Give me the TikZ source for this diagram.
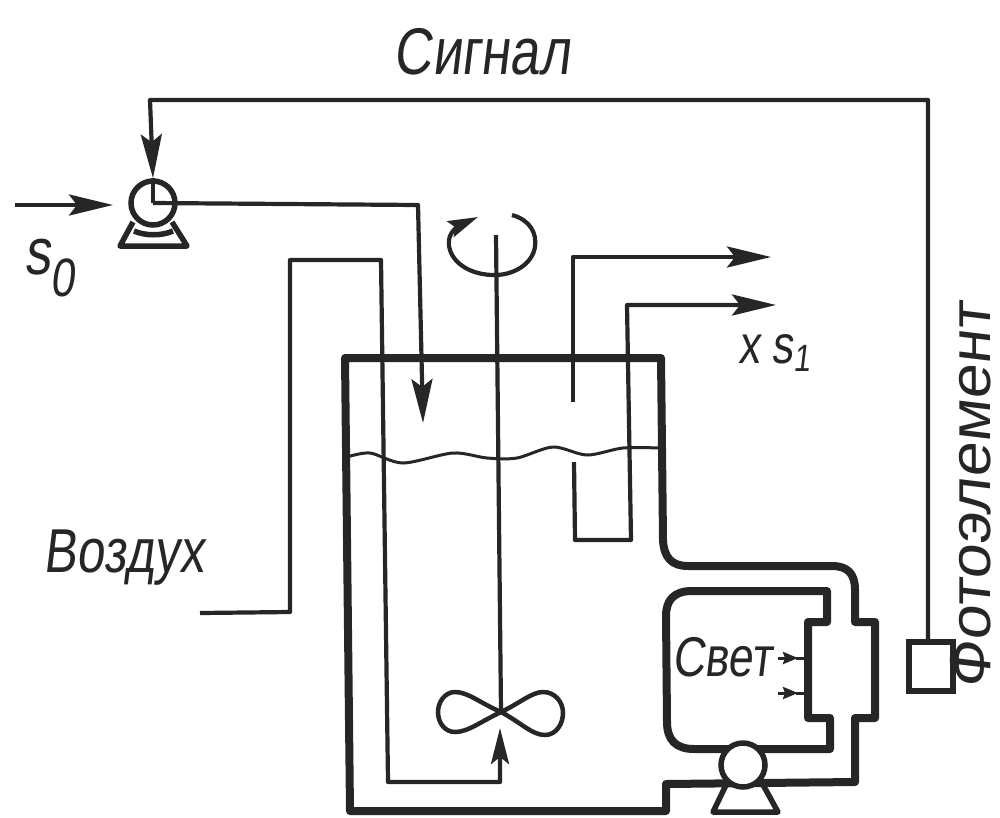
\documentclass[tikz,border=0pt]{standalone}
\usepackage{fontspec}
\usetikzlibrary{arrows.meta}
\newfontfamily\handfont[FakeStretch=0.8,FakeSlant=0.12]{Liberation Sans}
\newfontfamily\widehand[FakeStretch=1.08,FakeSlant=0.12]{Liberation Sans}
\definecolor{ink}{HTML}{262626}
\tikzset{
  pipe/.style={draw=ink,line width=4.2pt,line join=round},
  wall/.style={draw=ink,line width=8pt,line join=round},
  flow/.style={pipe,-{Stealth[length=44pt,width=21pt,inset=8pt]}},
  smallflow/.style={draw=ink,line width=3pt,-{Stealth[length=15pt,width=12pt,inset=2pt]}},
  pumpbody/.style={circle,draw=ink,line width=5.5pt,fill=white,minimum size=44pt,inner sep=0pt},
  stand/.style={draw=ink,line width=5.5pt,line join=round},
  lab/.style={text=ink,inner sep=0pt}
}
\begin{document}
\begin{tikzpicture}[x=1pt,y=-1pt]
\useasboundingbox (0,0) rectangle (1000,817);
% ---- coordinates
\coordinate (feedstart) at (15,205);
\coordinate (feedend) at (113,205);
\coordinate (inflow) at (423,423);
\coordinate (airstart) at (200,613);
\coordinate (airend) at (500,728);
\coordinate (ov1start) at (573,402);
\coordinate (ov1end) at (771,257);
\coordinate (ov2start) at (574,462);
\coordinate (ov2end) at (776,305);
\coordinate (shafttop) at (496,235);
\coordinate (hub) at (501,712);
% ---- tank walls
\draw[wall] (345,358) -- (661,358) -- (663,540) .. controls (664,558) and (672,566) .. (688,566) -- (832,566) .. controls (848,566) and (855,574) .. (855,590) -- (855,622) -- (875,622) -- (875,718) -- (855,718) -- (855,782) -- (666,784) -- (666,811) -- (350,811) -- cycle;
\draw[wall] (827,622) -- (827,591) -- (692,591) .. controls (674,591) and (666,600) .. (666,616) -- (667,722) .. controls (667,740) and (676,749) .. (694,749) -- (830,749) -- (830,718) -- (808,718) -- (808,622) -- cycle;
% ---- liquid level
\draw[draw=ink,line width=3pt] plot[smooth] coordinates {(347,457) (370,453) (403,463) (453,453) (487,458) (517,458) (553,447) (587,455) (623,448) (660,448)};
% ---- pipes
\node[pumpbody] (pumpA) at (153,203) {};
\node[pumpbody] (pumpB) at (743,765) {};
\draw[stand] (133,222) -- (120,246) -- (187,246) -- (172,222);
\draw[stand] (134,231) .. controls (145,236) and (162,236) .. (173,231);
\draw[stand] (727,783) -- (713,812) -- (778,812) -- (762,783);
\draw[pipe] (pumpA.center) -- (153,178);
\draw[flow] (pumpA.center) -- (418,205) -- (inflow);
\draw[flow] (928,640) -- (928,100) -- (150,100) -- (pumpA.north);
\draw[flow] (feedstart) -- (feedend);
\draw[flow,-{Stealth[length=36pt,width=18pt,inset=7pt]}] (airstart) -- (290,612) -- (290,260) -- (381,260) -- (388,782) -- (500,782) -- (airend);
\draw[flow] (ov1start) -- (573,257) -- (ov1end);
\draw[flow] (ov2start) -- (575,540) -- (631,540) -- (627,305) -- (ov2end);
\draw[pipe] (shafttop) -- (hub);
% ---- rotation mark
\draw[pipe,-{Stealth[length=30pt,width=17pt,inset=5pt]}] (512,215) .. controls (530,220) and (537,233) .. (535,247) .. controls (532,265) and (512,276) .. (492,275) .. controls (465,274) and (447,258) .. (449,240) .. controls (450,230) and (462,224) .. (478,217);
% ---- impeller
\draw[draw=ink,line width=4.5pt] (hub) .. controls (480,703) and (468,692) .. (455,692) .. controls (445,692) and (438,702) .. (438,712) .. controls (438,723) and (445,732) .. (455,732) .. controls (468,732) and (480,722) .. (hub) .. controls (520,722) and (532,735) .. (545,735) .. controls (556,735) and (563,724) .. (563,713) .. controls (563,702) and (555,692) .. (543,692) .. controls (532,692) and (520,703) .. (hub);
% ---- light arrows
\coordinate (lampA) at (808,658);
\coordinate (lampB) at (808,693);
\draw[smallflow] (778,658) -- (798,658);
\draw[smallflow,-] (796,658) -- (lampA);
\draw[smallflow] (778,693) -- (798,693);
\draw[smallflow,-] (796,693) -- (lampB);
% ---- photocell
\node[draw=ink,line width=6pt,fill=white,minimum width=44pt,minimum height=49pt,inner sep=0pt] (cell) at (931,666) {};
% ---- labels
\node[lab,font=\handfont\fontsize{66}{66}\selectfont] (tSignal) at (482,52) {Сигнал};
\node[lab,font=\handfont\fontsize{62}{62}\selectfont] (tAir) at (124,558) {Воздух};
\node[lab,font=\handfont\fontsize{56}{56}\selectfont] (tLight) at (722,657) {Свет};
\node[lab,font=\widehand\fontsize{58}{58}\selectfont,rotate=90,anchor=base] (tPhoto) at (990,496) {Фотоэлемент};
\node[lab,font=\handfont\fontsize{66}{66}\selectfont,anchor=base west] (tS0) at (24,274) {s\raisebox{-22pt}{\fontsize{54}{54}\selectfont 0}};
\node[lab,font=\handfont\fontsize{54}{54}\selectfont,anchor=base west] (tXS) at (738,363) {x s\raisebox{-8pt}{\fontsize{38}{38}\selectfont 1}};
\end{tikzpicture}
\end{document}
